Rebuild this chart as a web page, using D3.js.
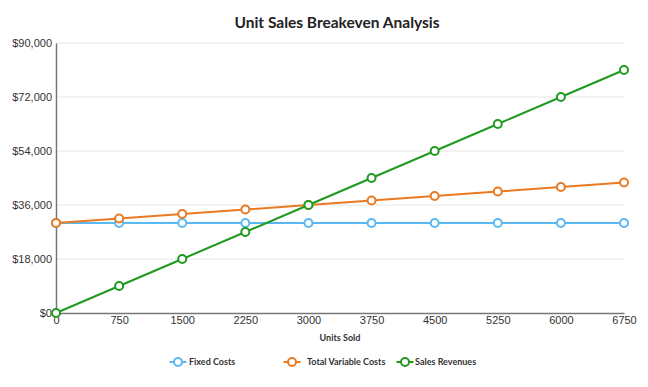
<!DOCTYPE html>
<html>
<head>
<meta charset="utf-8">
<script src="https://cdn.jsdelivr.net/npm/d3@7"></script>
<style>
  body { margin: 0; background: #fff; }
  svg { font-family: Lato, "Open Sans", sans-serif; }
</style>
</head>
<body>
<div id="chart"></div>
<script>
// data
const units = [0, 750, 1500, 2250, 3000, 3750, 4500, 5250, 6000, 6750]
const fixedCosts = [30000, 30000, 30000, 30000, 30000, 30000, 30000, 30000, 30000, 30000]
const totalVariableCosts = [30000, 31500, 33000, 34500, 36000, 37500, 39000, 40500, 42000, 43500]
const salesRevenues = [0, 9000, 18000, 27000, 36000, 45000, 54000, 63000, 72000, 81000]
const yTicks = [0, 18000, 36000, 54000, 72000, 90000]

const series = [
  { name: "Fixed Costs", values: fixedCosts, color: "#5ab9f3", lx: 178, tx: 11 },
  { name: "Total Variable Costs", values: totalVariableCosts, color: "#ea7a22", lx: 292, tx: 15 },
  { name: "Sales Revenues", values: salesRevenues, color: "#1f9a1f", lx: 405, tx: 10 },
]

const width = 648, height = 387
const margin = { top: 43, right: 24, bottom: 74, left: 56 }

const svg = d3.select("#chart").append("svg")
  .attr("width", width)
  .attr("height", height)

const x = d3.scaleLinear().domain([0, 6750]).range([margin.left, width - margin.right])
const y = d3.scaleLinear().domain([0, 90000]).range([height - margin.bottom, margin.top])

// title (centred over plot area)
svg.append("text")
  .attr("x", (x(0) + x(6750)) / 2 - 3).attr("y", 28)
  .attr("text-anchor", "middle")
  .style("font-size", "15.5px").style("font-weight", "bold").attr("fill", "#222")
  .text("Unit Sales Breakeven Analysis")

// gridlines
svg.append("g")
  .selectAll("line")
  .data(yTicks.filter(d => d > 0))
  .join("line")
  .attr("x1", x(0)).attr("x2", x(6750))
  .attr("y1", d => y(d)).attr("y2", d => y(d))
  .attr("stroke", "#e6e6e6").attr("stroke-width", 1)

// y axis
const yAxis = svg.append("g")
  .attr("transform", `translate(${margin.left},0)`)
  .call(d3.axisLeft(y).tickValues(yTicks).tickSize(0).tickPadding(4).tickFormat(d => "$" + d3.format(",")(d)))
yAxis.select(".domain").attr("stroke", "#777").attr("stroke-width", 1.5)
yAxis.selectAll("text").style("font-size", "11px").attr("fill", "#333").attr("dy", "0.32em")

// x axis
const xAxis = svg.append("g")
  .attr("transform", `translate(0,${y(0)})`)
  .call(d3.axisBottom(x).tickValues(units).tickSize(0).tickPadding(3).tickFormat(d3.format("d")))
xAxis.select(".domain").attr("stroke", "#777").attr("stroke-width", 1.5)
xAxis.selectAll("text").style("font-size", "11px").attr("fill", "#333")

svg.append("text")
  .attr("x", (x(0) + x(6750)) / 2).attr("y", 341)
  .attr("text-anchor", "middle")
  .style("font-size", "9px").style("font-weight", "bold").attr("fill", "#333")
  .text("Units Sold")

// lines + markers
const line = d3.line().x((d, i) => x(units[i])).y(d => y(d))

series.forEach(s => {
  svg.append("path")
    .datum(s.values)
    .attr("fill", "none")
    .attr("stroke", s.color)
    .attr("stroke-width", 2)
    .attr("d", line)
  svg.append("g")
    .selectAll("circle")
    .data(s.values)
    .join("circle")
    .attr("cx", (d, i) => x(units[i]))
    .attr("cy", d => y(d))
    .attr("r", 4)
    .attr("fill", "#fff")
    .attr("stroke", s.color)
    .attr("stroke-width", 2)
})

// legend
const legend = svg.append("g")
series.forEach(s => {
  const g = legend.append("g").attr("transform", `translate(${s.lx},362)`)
  g.append("line").attr("x1", -8.5).attr("x2", 8.5).attr("stroke", s.color).attr("stroke-width", 2)
  g.append("circle").attr("r", 4).attr("fill", "#fff").attr("stroke", s.color).attr("stroke-width", 2)
  g.append("text")
    .attr("x", s.tx).attr("dy", "0.35em")
    .style("font-size", "9px").style("font-weight", "bold").attr("fill", "#333")
    .text(s.name)
})
</script>
</body>
</html>
